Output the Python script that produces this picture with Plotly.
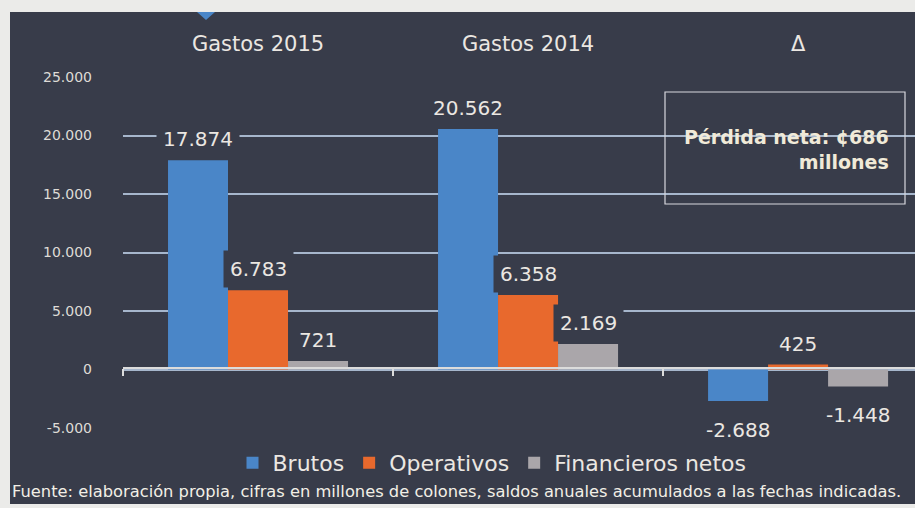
import plotly.graph_objects as go

categories = ["Gastos 2015", "Gastos 2014", "Δ"]
series_names = ["Brutos", "Operativos", "Financieros netos"]
brutos = [17874, 20562, -2688]
operativos = [6783, 6358, 425]
financieros = [721, 2169, -1448]
y_ticks = [-5000, 0, 5000, 10000, 15000, 20000, 25000]
y_ticklabels = ["-5.000", "0", "5.000", "10.000", "15.000", "20.000", "25.000"]
box_text = "Pérdida neta: ¢686<br>millones"
footnote = "Fuente: elaboración propia, cifras en millones de colones, saldos anuales acumulados a las fechas indicadas."

colors = ["#4a86c8", "#e8692d", "#aaa6aa"]
BG = "#383c4a"
TXT = "#ebe7e2"
FONT = "DejaVu Sans"

W, H = 915, 508
ML, MR, MT, MB = 123, 0, 77, 80
PW, PH = W - ML - MR, H - MT - MB


def px(x):  # window pixel -> paper x
    return (x - ML) / PW


def py(y):  # window pixel -> paper y
    return (H - MB - y) / PH


def fmt(v):
    return f"{v:,}".replace(",", ".")


fig = go.Figure()
all_series = [brutos, operativos, financieros]
for name, vals, col in zip(series_names, all_series, colors):
    fig.add_trace(go.Bar(x=categories, y=vals, name=name, marker_color=col,
                         marker_line_width=0, hoverinfo="skip"))

# helper trace for the zero axis line with boundary ticks
fig.add_trace(go.Scatter(x=categories, y=[0, 0, 0], xaxis="x2", mode="markers",
                         marker_opacity=0, showlegend=False, hoverinfo="skip"))

bar_px = PW / 2.933 * (1 - 1 / 3) / 3
annotations = []
for i, vals in enumerate(all_series):
    for c, v in zip(categories, vals):
        annotations.append(dict(
            x=c, y=v, xref="x", yref="y", text=fmt(v), showarrow=False,
            xshift=(i - 1) * bar_px, yshift=2 if v >= 0 else -10,
            yanchor="bottom" if v >= 0 else "top",
            font=dict(family=FONT, size=20, color=TXT),
            bgcolor=BG, borderpad=6))

annotations.append(dict(
    x=px(891), y=py(149), xref="paper", yref="paper", text=box_text,
    showarrow=False, xanchor="right", yanchor="middle", align="right",
    font=dict(family=FONT, size=19, color="#f0ead8", weight="bold")))
annotations.append(dict(
    x=px(10), y=py(491), xref="paper", yref="paper", text=footnote,
    showarrow=False, xanchor="left", yanchor="middle",
    font=dict(family=FONT, size=16.3, color="#f2efe6")))

shapes = [
    dict(type="rect", xref="paper", yref="paper", x0=px(10), x1=px(915),
         y0=py(504), y1=py(12), fillcolor=BG, line_width=0, layer="below"),
    dict(type="rect", xref="paper", yref="paper", x0=px(665), x1=px(905),
         y0=py(204), y1=py(92), line=dict(color="#d8d8de", width=1.2)),
    dict(type="path", xref="paper", yref="paper",
         path=f"M {px(197)} {py(12)} L {px(215)} {py(12)} L {px(206)} {py(20)} Z",
         fillcolor="#4a86c8", line_width=0),
]

fig.update_layout(
    width=W, height=H,
    margin=dict(l=ML, r=MR, t=MT, b=MB, pad=0),
    paper_bgcolor="#ebebe9", plot_bgcolor="rgba(0,0,0,0)",
    barmode="group", bargap=1 / 3, bargroupgap=0,
    separators=",.",
    font=dict(family=FONT, color=TXT),
    showlegend=True,
    legend=dict(orientation="h", x=px(492), xanchor="center", y=py(463),
                yanchor="middle", font=dict(family=FONT, size=22, color=TXT),
                bgcolor="rgba(0,0,0,0)", itemwidth=30, traceorder="normal"),
    xaxis=dict(type="category", categoryorder="array", categoryarray=categories,
               range=[-0.5, 2.433], side="top", showgrid=False, showline=False,
               ticks="", tickfont=dict(family=FONT, size=21, color=TXT),
               ticklabelstandoff=21),
    xaxis2=dict(type="category", categoryorder="array", categoryarray=categories,
                matches="x", overlaying="x", anchor="free", position=py(368),
                side="bottom", showline=True, linecolor="#dcdcdc", linewidth=1.5,
                ticks="outside", tickson="boundaries", ticklen=7, tickwidth=1.5,
                tickcolor="#dcdcdc", showticklabels=False, showgrid=False),
    yaxis=dict(range=[-5000, 25000], tickvals=y_ticks, ticktext=y_ticklabels,
               showgrid=True, gridcolor="#a6b6cc", gridwidth=1.5,
               zeroline=False, showline=False, ticks="",
               tickfont=dict(family=FONT, size=14, color="#dedbd6"),
               ticklabelstandoff=30),
    annotations=annotations, shapes=shapes,
)

fig.write_html("out.html", config={"displayModeBar": False},
               post_script="document.body.style.margin='0';"
                           "document.body.style.overflow='hidden';")
